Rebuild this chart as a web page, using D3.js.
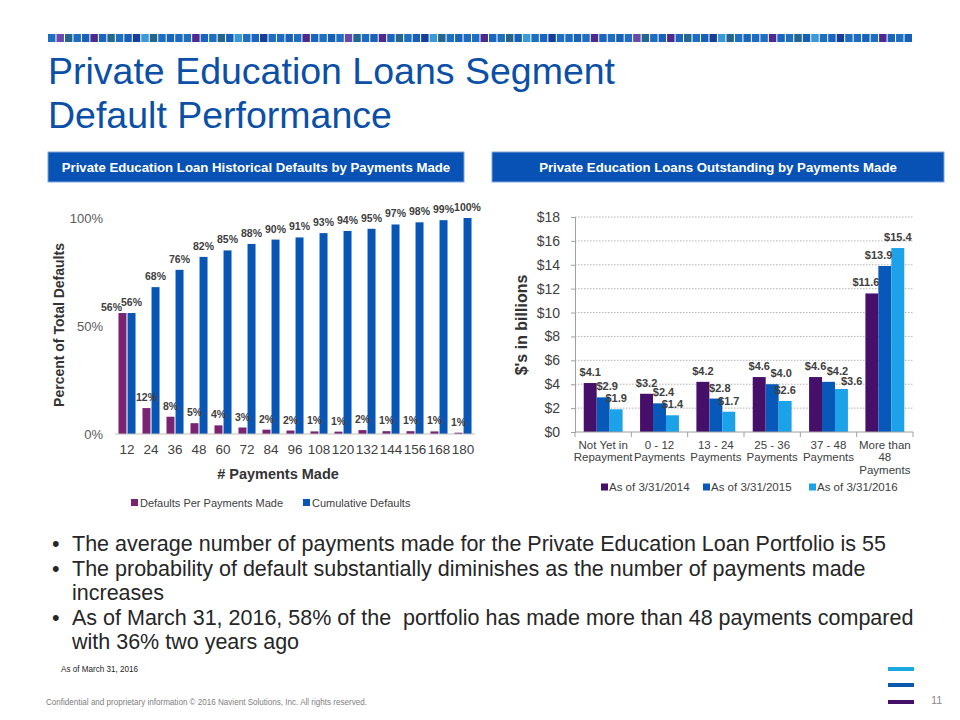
<!DOCTYPE html>
<html>
<head>
<meta charset="utf-8">
<script src="https://cdn.jsdelivr.net/npm/d3@7"></script>
<style>
body { margin: 0; background: #fff; }
text { font-family: "Liberation Sans", Arial, sans-serif; }
</style>
</head>
<body>
<script>
// left chart data
const payments = ["12", "24", "36", "48", "60", "72", "84", "96", "108", "120", "132", "144", "156", "168", "180"];
const defaultsPer = [56, 12, 8, 5, 4, 3, 2, 1.6, 1.2, 1.1, 1.8, 1.3, 1.3, 1.2, 0.6];
const cumulative = [56, 68, 76, 82, 85, 88, 90, 91, 93, 94, 95, 97, 98, 99, 100];
const defaultSeries = ["Defaults Per Payments Made", "Cumulative Defaults"];
const pctTicks = [0, 50, 100];

// right chart data
const buckets = ["Not Yet in|Repayment", "0 - 12|Payments", "13 - 24|Payments", "25 - 36|Payments", "37 - 48|Payments", "More than|48|Payments"];
const asOf2014 = [4.1, 3.2, 4.2, 4.6, 4.6, 11.6];
const asOf2015 = [2.9, 2.4, 2.8, 4.0, 4.2, 13.9];
const asOf2016 = [1.9, 1.4, 1.7, 2.6, 3.6, 15.4];
const outstandingSeries = ["As of 3/31/2014", "As of 3/31/2015", "As of 3/31/2016"];
const dollarTicks = [0, 2, 4, 6, 8, 10, 12, 14, 16, 18];

const bullets = [
    ["The average number of payments made for the Private Education Loan Portfolio is 55"],
    ["The probability of default substantially diminishes as the number of payments made", "increases"],
    ["As of March 31, 2016, 58% of the  portfolio has made more than 48 payments compared", "with 36% two years ago"]
];

const width = 960;
const height = 720;

const leftColors = ["#782470", "#0756b6"];
const rightColors = ["#46106a", "#0758b8", "#1ca2e8"];
const stripeColors = ["#1f6fc0", "#6a4aa8", "#23658c", "#1d6cc2", "#1a62b8", "#4e2a8e", "#1a66bf", "#24678f",
    "#1f6fc0", "#1860b6", "#173f9a", "#3a9ad8", "#23658c", "#1f6fc0", "#1a66bf", "#1d6cc2",
    "#1f6fc0", "#4e2a8e", "#1a66bf", "#1f6fc0", "#23658c", "#1860b6", "#3a9ad8", "#1f6fc0",
    "#1a66bf", "#173f9a", "#1f6fc0", "#1d6cc2", "#1a62b8", "#1f6fc0", "#4e2a8e", "#1a66bf", "#1f6fc0", "#1860b6"];

let svg = d3.select("body").append("svg")
    .attr("width", width)
    .attr("height", height);

// decorative stripe
const stripeX = d3.scaleBand().domain(d3.range(102)).range([48, 912]).paddingInner(0.12);
svg.append("g").selectAll("rect")
    .data(stripeX.domain())
    .join("rect")
    .attr("x", d => stripeX(d))
    .attr("y", 34)
    .attr("width", stripeX.bandwidth())
    .attr("height", 8)
    .attr("fill", d => stripeColors[d % stripeColors.length]);

// title
svg.append("text").attr("x", 48).attr("y", 84)
    .style("font-size", "37.5px").attr("fill", "#0b4fa6")
    .text("Private Education Loans Segment");
svg.append("text").attr("x", 48).attr("y", 128)
    .style("font-size", "37.5px").attr("fill", "#0b4fa6")
    .text("Default Performance");

// header boxes
const boxes = [
    {x: 48, w: 416, label: "Private Education Loan Historical Defaults by Payments Made"},
    {x: 492, w: 452, label: "Private Education Loans Outstanding by Payments Made"}
];
boxes.forEach(b => {
    svg.append("rect").attr("x", b.x).attr("y", 152).attr("width", b.w).attr("height", 30)
        .attr("fill", "#0752b4").attr("stroke", "#7fa6da").attr("stroke-width", 1);
    svg.append("text").attr("x", b.x + b.w / 2).attr("y", 172)
        .attr("text-anchor", "middle").attr("fill", "#fff")
        .style("font-size", "13.2px").style("font-weight", "bold")
        .text(b.label);
});

// ---------- left chart ----------
let x0 = d3.scaleBand().domain(payments).range([115, 475]).paddingInner(0.29).paddingOuter(0.145);
let x1 = d3.scaleBand().domain(defaultSeries).range([0, x0.bandwidth()]).paddingInner(0.12);
let yL = d3.scaleLinear().domain([0, 100]).range([434, 218]);

let leftData = payments.map((p, i) => ({p: p, vals: [defaultsPer[i], cumulative[i]]}));

let leftG = svg.append("g");
let groups = leftG.selectAll(".grp").data(leftData).join("g")
    .attr("class", "grp")
    .attr("transform", d => `translate(${x0(d.p)},0)`);

groups.selectAll("rect")
    .data(d => d.vals.map((v, k) => ({k: k, v: v, same: d.vals[0] === d.vals[1]})))
    .join("rect")
    .attr("x", d => x1(defaultSeries[d.k]))
    .attr("y", d => yL(d.v))
    .attr("width", x1.bandwidth())
    .attr("height", d => yL(0) - yL(d.v))
    .attr("fill", d => leftColors[d.k]);

// the first purple label sits to the left when both bars are equal, like the original
groups.selectAll("text")
    .data(d => d.vals.map((v, k) => ({k: k, v: v, same: d.vals[0] === d.vals[1]})))
    .join("text")
    .attr("x", d => x1(defaultSeries[d.k]) + x1.bandwidth() / 2 + (d.same && d.k === 0 ? -11 : 0))
    .attr("y", d => yL(d.v) - (d.same && d.k === 0 ? 2 : 7))
    .attr("text-anchor", "middle")
    .style("font-size", "10.5px").style("font-weight", "bold")
    .attr("fill", "#404040")
    .text(d => Math.round(d.v) + "%");

leftG.append("line")
    .attr("x1", 115).attr("x2", 475)
    .attr("y1", yL(0)).attr("y2", yL(0))
    .attr("stroke", "#bfbfbf");

let xAxisL = leftG.append("g")
    .attr("transform", `translate(0,${yL(0)})`)
    .call(d3.axisBottom(x0).tickSize(0).tickPadding(10));
xAxisL.select(".domain").remove();
xAxisL.selectAll("text").style("font-size", "13.5px").attr("fill", "#404040")
    .style("font-family", "Liberation Sans, Arial, sans-serif");

let yAxisL = leftG.append("g")
    .attr("transform", "translate(107,0)")
    .call(d3.axisLeft(yL).tickValues(pctTicks).tickFormat(d => d + "%").tickSize(0).tickPadding(4));
yAxisL.select(".domain").remove();
yAxisL.selectAll("text").style("font-size", "13px").attr("fill", "#595959")
    .style("font-family", "Liberation Sans, Arial, sans-serif");

leftG.append("text")
    .attr("x", 278).attr("y", 479)
    .attr("text-anchor", "middle")
    .style("font-size", "14.5px").style("font-weight", "bold")
    .attr("fill", "#333")
    .text("# Payments Made");

leftG.append("text")
    .attr("transform", "translate(64,325) rotate(-90)")
    .attr("text-anchor", "middle")
    .style("font-size", "14px").style("font-weight", "bold")
    .attr("fill", "#333")
    .text("Percent of Total Defaults");

const legendL = [{x: 131, k: 0}, {x: 303, k: 1}];
legendL.forEach(l => {
    leftG.append("rect").attr("x", l.x).attr("y", 499).attr("width", 7).attr("height", 7)
        .attr("fill", leftColors[l.k]);
    leftG.append("text").attr("x", l.x + 9).attr("y", 506.5)
        .style("font-size", "11px").attr("fill", "#404040")
        .text(defaultSeries[l.k]);
});

// ---------- right chart ----------
let xb = d3.scaleBand().domain(buckets).range([575, 913]).paddingInner(0.31).paddingOuter(0.155);
let xs = d3.scaleBand().domain(outstandingSeries).range([0, xb.bandwidth()]);
let yR = d3.scaleLinear().domain([0, 18]).range([432, 217]);

let rightData = buckets.map((b, i) => ({b: b, vals: [asOf2014[i], asOf2015[i], asOf2016[i]]}));

let rightG = svg.append("g");

rightG.selectAll(".grid").data(dollarTicks.filter(d => d > 0)).join("line")
    .attr("class", "grid")
    .attr("x1", 575).attr("x2", 913)
    .attr("y1", d => yR(d)).attr("y2", d => yR(d))
    .attr("stroke", "#a0a0a0").attr("stroke-width", 0.8)
    .attr("stroke-dasharray", "1.5,1.5");

let rgroups = rightG.selectAll(".rgrp").data(rightData).join("g")
    .attr("class", "rgrp")
    .attr("transform", d => `translate(${xb(d.b)},0)`);

rgroups.selectAll("rect")
    .data(d => d.vals.map((v, k) => ({k: k, v: v})))
    .join("rect")
    .attr("x", d => xs(outstandingSeries[d.k]))
    .attr("y", d => yR(d.v))
    .attr("width", xs.bandwidth())
    .attr("height", d => yR(0) - yR(d.v))
    .attr("fill", d => rightColors[d.k]);

// data labels in their own layer, above every bar
const labelShift = [0, 4, 0];
let lgroups = rightG.selectAll(".rlab").data(rightData).join("g")
    .attr("class", "rlab")
    .attr("transform", d => `translate(${xb(d.b)},0)`);

lgroups.each(function(g) {
    let grp = d3.select(this);
    let maxRight = xb.step() - 3;
    let labels = g.vals.map((v, k) => {
        let t = grp.append("text")
            .attr("text-anchor", "middle")
            .style("font-size", "11px").style("font-weight", "bold")
            .attr("fill", "#404040")
            .text("$" + v.toFixed(1));
        let w = t.node().getComputedTextLength();
        let cx = xs(outstandingSeries[k]) + xs.bandwidth() / 2 + labelShift[k];
        let by = yR(v) - 7;
        // keep the label off a taller bar to its right
        if (k < 2 && yR(g.vals[k + 1]) < by) {
            cx = Math.min(cx, xs(outstandingSeries[k + 1]) + 1 - w / 2);
        }
        return {t: t, w: w, v: v, cx: cx, by: by};
    });
    // push a label right (then down) when it runs into the one before it
    for (let k = 1; k < labels.length; k++) {
        let a = labels[k - 1], b = labels[k];
        let xOver = (a.cx + a.w / 2) - (b.cx - b.w / 2);
        if (xOver > 0 && Math.abs(a.by - b.by) < 9.5) {
            b.cx = Math.min(b.cx + xOver + 0.5, maxRight - b.w / 2);
            let still = (a.cx + a.w / 2) - (b.cx - b.w / 2);
            if (still > 0) b.by = Math.min(a.by + 10, yR(b.v) - 1.5);
        }
    }
    labels.forEach(l => l.t.attr("x", l.cx).attr("y", l.by));
});

let yAxisR = rightG.append("g")
    .attr("transform", "translate(575,0)")
    .call(d3.axisLeft(yR).tickValues(dollarTicks).tickFormat(d => "$" + d).tickSize(4).tickPadding(11));
yAxisR.select(".domain").attr("stroke", "#a0a0a0");
yAxisR.selectAll(".tick line").attr("stroke", "#a0a0a0");
yAxisR.selectAll("text").style("font-size", "14px").attr("fill", "#404040")
    .style("font-family", "Liberation Sans, Arial, sans-serif");

// x axis with ticks between categories
rightG.append("line")
    .attr("x1", 575).attr("x2", 913)
    .attr("y1", yR(0)).attr("y2", yR(0))
    .attr("stroke", "#a0a0a0");
rightG.selectAll(".sep").data(d3.range(buckets.length + 1)).join("line")
    .attr("class", "sep")
    .attr("x1", i => 575 + i * xb.step()).attr("x2", i => 575 + i * xb.step())
    .attr("y1", yR(0)).attr("y2", yR(0) + 5)
    .attr("stroke", "#a0a0a0");

rightG.selectAll(".cat").data(buckets).join("text")
    .attr("class", "cat")
    .attr("text-anchor", "middle")
    .style("font-size", "11.5px").attr("fill", "#404040")
    .each(function(d) {
        d3.select(this).selectAll("tspan").data(d.split("|")).join("tspan")
            .attr("x", xb(d) + xb.bandwidth() / 2)
            .attr("y", (t, j) => 449 + j * 12.3)
            .text(t => t);
    });

rightG.append("text")
    .attr("transform", "translate(527,325) rotate(-90)")
    .attr("text-anchor", "middle")
    .style("font-size", "16px").style("font-weight", "bold")
    .attr("fill", "#333")
    .text("$'s in billions");

const legendR = [{x: 601, k: 0}, {x: 703, k: 1}, {x: 809, k: 2}];
legendR.forEach(l => {
    rightG.append("rect").attr("x", l.x).attr("y", 483.5).attr("width", 7).attr("height", 7)
        .attr("fill", rightColors[l.k]);
    rightG.append("text").attr("x", l.x + 8).attr("y", 491)
        .style("font-size", "11.5px").attr("fill", "#404040")
        .text(outstandingSeries[l.k]);
});

// ---------- bullets ----------
let by = 551;
bullets.forEach(lines => {
    svg.append("text").attr("x", 52).attr("y", by)
        .style("font-size", "21.5px").attr("fill", "#262626").text("•");
    lines.forEach(line => {
        svg.append("text").attr("x", 72).attr("y", by)
            .style("font-size", "21.5px").style("white-space", "pre")
            .attr("fill", "#262626").text(line);
        by += 24.5;
    });
});

// footnotes
svg.append("text").attr("x", 61).attr("y", 672)
    .style("font-size", "9px")
    .attr("textLength", 77).attr("lengthAdjust", "spacingAndGlyphs")
    .attr("fill", "#262626").text("As of March 31, 2016");
svg.append("text").attr("x", 46).attr("y", 705)
    .style("font-size", "9px")
    .attr("textLength", 321).attr("lengthAdjust", "spacingAndGlyphs")
    .attr("fill", "#808080")
    .text("Confidential and proprietary information  © 2016 Navient Solutions, Inc. All rights reserved.");
svg.append("text").attr("x", 931).attr("y", 704)
    .style("font-size", "11px").attr("fill", "#8c8c8c").text("11");

const marks = [{y: 667, c: "#1aa8e0"}, {y: 683, c: "#0a58b0"}, {y: 700, c: "#44106a"}];
marks.forEach(m => {
    svg.append("rect").attr("x", 888).attr("y", m.y).attr("width", 26).attr("height", 4).attr("fill", m.c);
});
</script>
</body>
</html>
